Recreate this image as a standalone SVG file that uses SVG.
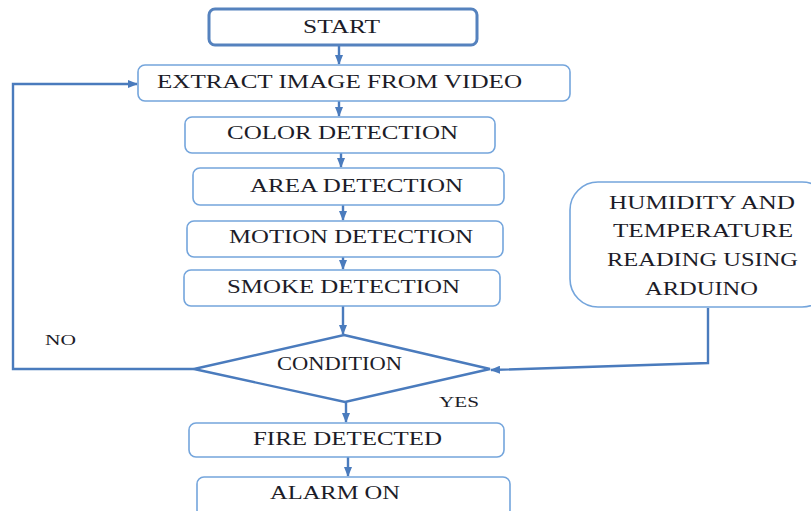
<svg xmlns="http://www.w3.org/2000/svg" width="811" height="511" viewBox="0 0 811 511">
<defs>
<style>
.box{fill:#fff;stroke:#74a5dc;stroke-width:1.6}
.start{fill:#fff;stroke:#5582be;stroke-width:3}
.t{font-family:"Liberation Serif","Times New Roman",serif;font-size:18px;fill:#1c1c28;text-anchor:middle}
.s{font-size:15px}
.c{fill:none;stroke:#4a7bbd;stroke-width:2.4}
</style>
<marker id="ah" markerWidth="10" markerHeight="8" refX="9" refY="4" orient="auto" markerUnits="userSpaceOnUse">
<path d="M0,0 L10,4 L0,8 z" fill="#4a7bbd"/>
</marker>
</defs>
<rect width="811" height="511" fill="#fff"/>
<g id="connectors">
<line class="c" x1="339" y1="45" x2="339" y2="64" marker-end="url(#ah)"/>
<line class="c" x1="339" y1="101" x2="339" y2="116" marker-end="url(#ah)"/>
<line class="c" x1="341" y1="153" x2="341" y2="167" marker-end="url(#ah)"/>
<line class="c" x1="343" y1="205" x2="343" y2="220" marker-end="url(#ah)"/>
<line class="c" x1="343" y1="257" x2="343" y2="269" marker-end="url(#ah)"/>
<line class="c" x1="343" y1="306" x2="343" y2="334" marker-end="url(#ah)"/>
<line class="c" x1="346" y1="402" x2="346" y2="422" marker-end="url(#ah)"/>
<line class="c" x1="348" y1="457" x2="348" y2="476" marker-end="url(#ah)"/>
<polyline class="c" points="194,369 13,369 13,84 137,84" marker-end="url(#ah)"/>
<polyline class="c" points="708,308 708,363 491,370" marker-end="url(#ah)"/>
</g>
<g id="start"><rect class="start" x="209" y="9" width="268" height="36" rx="6"/><text class="t" x="341.5" y="33" textLength="77" lengthAdjust="spacingAndGlyphs">START</text></g>
<g id="extract"><rect class="box" x="138" y="65" width="432" height="36" rx="7"/><text class="t" x="339.5" y="88" textLength="365" lengthAdjust="spacingAndGlyphs">EXTRACT IMAGE FROM VIDEO</text></g>
<g id="color"><rect class="box" x="185" y="117" width="310" height="36" rx="7"/><text class="t" x="342.5" y="139" textLength="231" lengthAdjust="spacingAndGlyphs">COLOR DETECTION</text></g>
<g id="area"><rect class="box" x="193" y="168" width="311" height="37" rx="7"/><text class="t" x="356.5" y="192" textLength="213" lengthAdjust="spacingAndGlyphs">AREA DETECTION</text></g>
<g id="motion"><rect class="box" x="187" y="221" width="316" height="36" rx="7"/><text class="t" x="351" y="243" textLength="244" lengthAdjust="spacingAndGlyphs">MOTION DETECTION</text></g>
<g id="smoke"><rect class="box" x="184" y="270" width="316" height="36" rx="7"/><text class="t" x="343.5" y="293" textLength="233" lengthAdjust="spacingAndGlyphs">SMOKE DETECTION</text></g>
<g id="condition"><polygon points="344,335 490,369 345,402 194,369" fill="#fff" stroke="#4a7bbd" stroke-width="2.4"/><text class="t" x="339.5" y="370" textLength="125" lengthAdjust="spacingAndGlyphs">CONDITION</text></g>
<g id="humidity"><rect class="box" x="570" y="182" width="260" height="125" rx="28"/>
<text class="t" x="702" y="209" textLength="186" lengthAdjust="spacingAndGlyphs">HUMIDITY AND</text>
<text class="t" x="703" y="237" textLength="180" lengthAdjust="spacingAndGlyphs">TEMPERATURE</text>
<text class="t" x="702.5" y="266" textLength="191" lengthAdjust="spacingAndGlyphs">READING USING</text>
<text class="t" x="701.5" y="295" textLength="113" lengthAdjust="spacingAndGlyphs">ARDUINO</text></g>
<g id="fire"><rect class="box" x="189" y="423" width="315" height="34" rx="7"/><text class="t" x="347.5" y="445" textLength="189" lengthAdjust="spacingAndGlyphs">FIRE DETECTED</text></g>
<g id="alarm"><rect class="box" x="197" y="477" width="313" height="40" rx="7"/><text class="t" x="335" y="499" textLength="130" lengthAdjust="spacingAndGlyphs">ALARM ON</text></g>
<g id="labels">
<text class="t s" x="60.5" y="345" textLength="31" lengthAdjust="spacingAndGlyphs">NO</text>
<text class="t s" x="459" y="407" textLength="40" lengthAdjust="spacingAndGlyphs">YES</text>
</g>
</svg>
